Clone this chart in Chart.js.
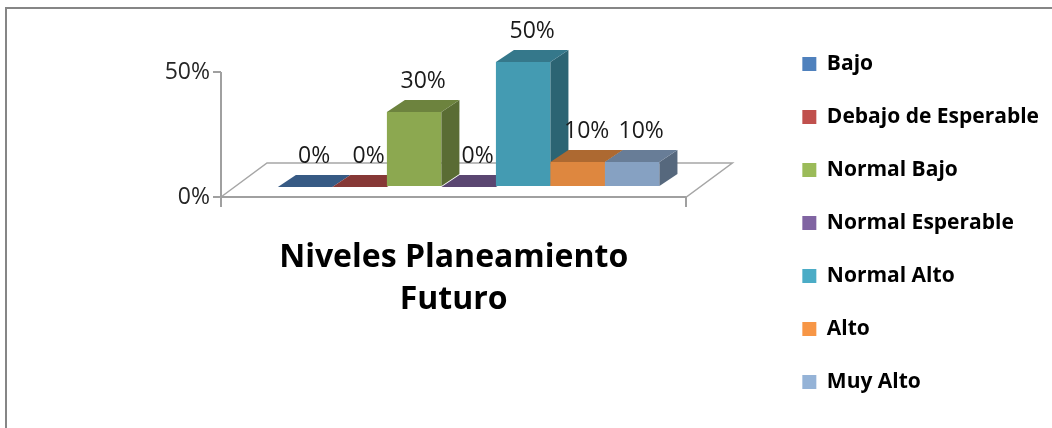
<!DOCTYPE html>
<html>
<head>
<meta charset="utf-8">
<script src="https://cdn.jsdelivr.net/npm/chart.js@4.4.0/dist/chart.umd.min.js"></script>
<style>
    html, body { margin: 0; padding: 0; background: #fff; }
    #wrap { width: 1052px; height: 428px; position: relative; }
</style>
</head>
<body>
<div id="wrap"><canvas id="nivelesChart"></canvas></div>
<script>
// ======================
// Data
// ======================
const categories = ["Niveles Planeamiento Futuro"];
const titleLines = ["Niveles Planeamiento", "Futuro"];
const seriesNames = ["Bajo", "Debajo de Esperable", "Normal Bajo", "Normal Esperable", "Normal Alto", "Alto", "Muy Alto"];
const seriesValues = [0, 0, 0.30, 0, 0.50, 0.10, 0.10];
const seriesColors = ["#4F81BD", "#C0504D", "#9BBB59", "#8064A2", "#4BACC6", "#F79646", "#95B3D7"];
const yTicks = [0, 0.5];

const FONT = "'Open Sans', 'Liberation Sans', sans-serif";

// 3D look
const DEPTH_X = 18, DEPTH_Y = -12;   // box depth
const SHIFT_X = 15, SHIFT_Y = -10;   // bars stand a bit back on the floor
const FLOOR_X = 46, FLOOR_Y = -34;   // floor depth

function shade(hex, f) {
    const n = parseInt(hex.slice(1), 16);
    const r = Math.round(((n >> 16) & 255) * f);
    const g = Math.round(((n >> 8) & 255) * f);
    const b = Math.round((n & 255) * f);
    return `rgb(${r},${g},${b})`;
}

function poly(ctx, pts, fill) {
    ctx.beginPath();
    ctx.moveTo(pts[0][0], pts[0][1]);
    for (let i = 1; i < pts.length; i++) ctx.lineTo(pts[i][0], pts[i][1]);
    ctx.closePath();
    ctx.fillStyle = fill;
    ctx.fill();
}

const bars3d = {
    id: "bars3d",
    beforeDraw(chart) {
        // outer frame (only top and left show)
        const ctx = chart.ctx;
        ctx.save();
        ctx.strokeStyle = "#868686";
        ctx.lineWidth = 2;
        ctx.beginPath();
        ctx.moveTo(6, chart.height);
        ctx.lineTo(6, 8);
        ctx.lineTo(chart.width, 8);
        ctx.stroke();
        ctx.restore();
    },
    beforeDatasetsDraw(chart) {
        const ctx = chart.ctx;
        const { left, right, bottom } = chart.chartArea;
        const y = chart.scales.y;
        ctx.save();
        // floor
        ctx.beginPath();
        ctx.moveTo(left, bottom);
        ctx.lineTo(left + FLOOR_X, bottom + FLOOR_Y);
        ctx.lineTo(right + FLOOR_X, bottom + FLOOR_Y);
        ctx.lineTo(right, bottom);
        ctx.closePath();
        ctx.fillStyle = "#fff";
        ctx.fill();
        ctx.strokeStyle = "#a6a6a6";
        ctx.lineWidth = 1.5;
        ctx.stroke();
        // front edge + value axis line
        ctx.strokeStyle = "#a0a0a0";
        ctx.lineWidth = 2;
        ctx.beginPath();
        ctx.moveTo(right, bottom);
        ctx.lineTo(left, bottom);
        ctx.moveTo(left, bottom);
        ctx.lineTo(left, y.getPixelForValue(yTicks[yTicks.length - 1]));
        ctx.stroke();
        ctx.restore();
    },
    beforeDatasetDraw() {
        return false; // boxes drawn below
    },
    afterDatasetsDraw(chart) {
        const ctx = chart.ctx;
        ctx.save();
        chart.data.datasets.forEach((ds, i) => {
            const bar = chart.getDatasetMeta(i).data[0];
            const { x, y, base, width } = bar.getProps(["x", "y", "base", "width"], true);
            const x0 = x - width / 2 + SHIFT_X, x1 = x + width / 2 + SHIFT_X;
            const yt = y + SHIFT_Y, yb = base + SHIFT_Y;
            const c = seriesColors[i];
            if (yb - yt > 0.5) {
                ctx.fillStyle = shade(c, 0.9);
                ctx.fillRect(x0, yt, x1 - x0, yb - yt);
                poly(ctx, [[x1, yt], [x1 + DEPTH_X, yt + DEPTH_Y], [x1 + DEPTH_X, yb + DEPTH_Y], [x1, yb]], shade(c, 0.58));
            }
            poly(ctx, [[x0, yt], [x0 + DEPTH_X, yt + DEPTH_Y], [x1 + DEPTH_X, yt + DEPTH_Y], [x1, yt]], shade(c, 0.7));
        });
        // data labels
        ctx.font = `23px ${FONT}`;
        ctx.fillStyle = "#1a1a1a";
        ctx.textAlign = "center";
        ctx.textBaseline = "middle";
        chart.data.datasets.forEach((ds, i) => {
            const bar = chart.getDatasetMeta(i).data[0];
            const { x, y } = bar.getProps(["x", "y"], true);
            ctx.fillText(Math.round(ds.data[0] * 100) + "%", x + SHIFT_X + DEPTH_X / 2, y + SHIFT_Y + DEPTH_Y - 19);
        });
        ctx.restore();
    }
};

const ctx = document.getElementById("nivelesChart").getContext("2d");
new Chart(ctx, {
    type: "bar",
    data: {
        labels: categories,
        datasets: seriesNames.map((name, i) => ({
            label: name,
            data: [seriesValues[i]],
            backgroundColor: seriesColors[i],
            borderWidth: 0,
            categoryPercentage: 0.82,
            barPercentage: 1
        }))
    },
    options: {
        responsive: true,
        maintainAspectRatio: false,
        animation: false,
        devicePixelRatio: 1,
        layout: { padding: { top: 18, left: 0, right: 3, bottom: 0 } },
        plugins: {
            legend: {
                position: "right",
                maxWidth: 320,
                labels: {
                    boxWidth: 14,
                    boxHeight: 14,
                    padding: 32,
                    color: "#000",
                    font: { family: FONT, size: 21, weight: "bold" }
                }
            },
            tooltip: { enabled: false }
        },
        scales: {
            x: {
                grid: { drawOnChartArea: false, color: "#a0a0a0", lineWidth: 2, tickLength: 10 },
                border: { display: true, color: "#a0a0a0", width: 2 },
                ticks: { display: false },
                title: {
                    display: true,
                    text: titleLines,
                    color: "#000",
                    font: { family: FONT, size: 32, weight: "bold", lineHeight: "42px" },
                    padding: { top: 30, bottom: 107 }
                }
            },
            y: {
                min: 0,
                max: 0.716,
                afterBuildTicks: s => { s.ticks = yTicks.map(v => ({ value: v })); },
                afterFit: s => { s.width = 221; },
                grid: { drawOnChartArea: false, color: "#a0a0a0", lineWidth: 2, tickLength: 8 },
                border: { display: false },
                ticks: {
                    padding: 3,
                    color: "#262626",
                    font: { family: FONT, size: 23 },
                    callback: v => Math.round(v * 100) + "%"
                }
            },
            yR: {
                type: "linear",
                position: "right",
                grid: { display: false },
                border: { display: false },
                ticks: { display: false },
                afterFit: s => { s.width = 84; }
            }
        }
    },
    plugins: [bars3d]
});
</script>
</body>
</html>
